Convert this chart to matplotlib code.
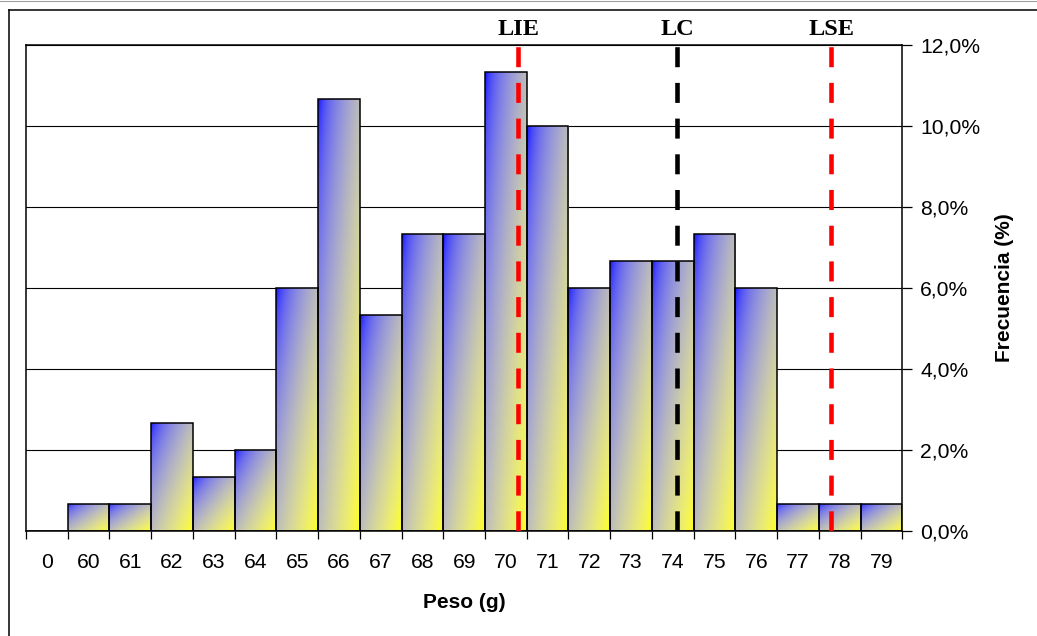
import numpy as np
import matplotlib
matplotlib.use("Agg")
import matplotlib.pyplot as plt
from matplotlib.colors import ListedColormap
from matplotlib.lines import Line2D
from matplotlib.ticker import FixedLocator, FuncFormatter
import matplotlib.transforms as mtransforms

# Weight classes (g) and relative frequency (%) of each class
categories = ["0", "60", "61", "62", "63", "64", "65", "66", "67", "68", "69",
              "70", "71", "72", "73", "74", "75", "76", "77", "78", "79"]
frequency = [0.0, 0.67, 0.67, 2.67, 1.33, 2.0, 6.0, 10.67, 5.33, 7.33, 7.33,
             11.33, 10.0, 6.0, 6.67, 6.67, 7.33, 6.0, 0.67, 0.67, 0.67]

# Specification limits (g): lower, central, upper
limit_names = ["LIE", "LC", "LSE"]
limit_values = [70.3, 74.1, 77.8]
limit_colors = ["#ff0000", "#000000", "#ff0000"]

y_ticks = [0, 2, 4, 6, 8, 10, 12]

plt.rcParams["font.family"] = ["Liberation Sans", "DejaVu Sans"]

W, H = 1037, 636
fig = plt.figure(figsize=(W / 100, H / 100), dpi=100)
fig.patch.set_facecolor("white")

left, right, top, bottom = 26, 902.3, 45, 531
ax = fig.add_axes([left / W, 1 - bottom / H, (right - left) / W, (bottom - top) / H])

n = len(categories)
x = np.arange(n)


# Blue -> yellow gradient, blended in linear light (lighter grey midpoint)
def _to_lin(c):
    c = np.asarray(c, float)
    return np.where(c <= 0.04045, c / 12.92, ((c + 0.055) / 1.055) ** 2.4)


def _to_srgb(c):
    c = np.asarray(c, float)
    return np.where(c <= 0.0031308, c * 12.92, 1.055 * c ** (1 / 2.4) - 0.055)


c0 = _to_lin([0.0, 0.0, 1.0])
c1 = _to_lin([1.0, 1.0, 0.0])
tt = np.linspace(0, 1, 256)[:, None]
cmap = ListedColormap(np.clip(_to_srgb(c0 * (1 - tt) + c1 * tt), 0, 1))

g = np.linspace(0, 1, 200)
U, V = np.meshgrid(g, g)
grad = (U + V) / 2.0

bars = ax.bar(x, frequency, width=1.0, facecolor="none", edgecolor="black",
              linewidth=1.1, zorder=3)
for rect, h in zip(bars, frequency):
    if h <= 0:
        continue
    x0 = rect.get_x()
    im = ax.imshow(grad, cmap=cmap, vmin=0, vmax=1, origin="upper",
                   extent=(x0, x0 + rect.get_width(), 0, h), aspect="auto",
                   interpolation="bilinear", zorder=2)
    im.set_clip_path(rect)

# Limit lines: category position of value v is v - 59 (category "60" sits at 1)
lw_pt = 3.3
lw_px = lw_pt * 100 / 72
dash, gap, start = 20 / lw_px, 15.7 / lw_px, 1.7 / lw_px
label_tf = mtransforms.blended_transform_factory(ax.transData, ax.transAxes)
for name, v, c in zip(limit_names, limit_values, limit_colors):
    xp = v - 59
    ax.plot([xp, xp], [12, 0], color=c, linewidth=lw_pt,
            linestyle=(dash + gap - start, (dash, gap)),
            dash_capstyle="butt", zorder=4)
    ax.text(xp, 1.032, name, transform=label_tf, ha="center", va="center",
            fontsize=17.5, fontweight="bold",
            family=["Liberation Serif", "DejaVu Serif"])

ax.set_xlim(-0.5, n - 0.5)
ax.set_ylim(0, 12)

# Horizontal gridlines
ax.yaxis.grid(True, color="black", linewidth=0.8)
ax.set_axisbelow(True)

# x axis: ticks at class boundaries, labels at class centres
ax.xaxis.set_major_locator(FixedLocator(np.arange(n + 1) - 0.5))
ax.xaxis.set_minor_locator(FixedLocator(x))
ax.set_xticklabels([], minor=False)
ax.set_xticklabels(categories, minor=True)
ax.tick_params(axis="x", which="major", direction="out", length=6,
               width=0.9, color="black")
ax.tick_params(axis="x", which="minor", length=0, pad=16, labelsize=15.2)

# y axis on the right
ax.yaxis.tick_right()
ax.yaxis.set_label_position("right")
ax.set_yticks(y_ticks)
ax.yaxis.set_major_formatter(FuncFormatter(lambda v, p: f"{v:.1f}%".replace(".", ",")))
ax.tick_params(axis="y", direction="out", length=7, width=0.9, pad=6,
               labelsize=15.2, left=False, right=True)

for s in ax.spines.values():
    s.set_color("black")
    s.set_linewidth(1.1)

ax.set_xlabel("Peso (g)", fontsize=15, fontweight="bold")
ax.xaxis.set_label_coords(0.5, -(603 - bottom) / (bottom - top))
ax.xaxis.label.set_verticalalignment("center")

ax.set_ylabel("Frecuencia (%)", fontsize=15, fontweight="bold", rotation=90)
ax.yaxis.set_label_coords((1004 - left) / (right - left), 0.5)
ax.yaxis.label.set_verticalalignment("center")
ax.yaxis.label.set_horizontalalignment("center")

# Chart frame (top and left edges)
fig.add_artist(Line2D([8.5 / W, 1], [1 - 9.5 / H, 1 - 9.5 / H],
                      transform=fig.transFigure, color="black", linewidth=1.1))
fig.add_artist(Line2D([8.5 / W, 8.5 / W], [0, 1 - 9.5 / H],
                      transform=fig.transFigure, color="black", linewidth=1.1))
fig.add_artist(Line2D([0, 1], [1 - 0.5 / H, 1 - 0.5 / H],
                      transform=fig.transFigure, color="#a0a0a0", linewidth=0.8))

fig.savefig("out.png", dpi=100, facecolor="white")
